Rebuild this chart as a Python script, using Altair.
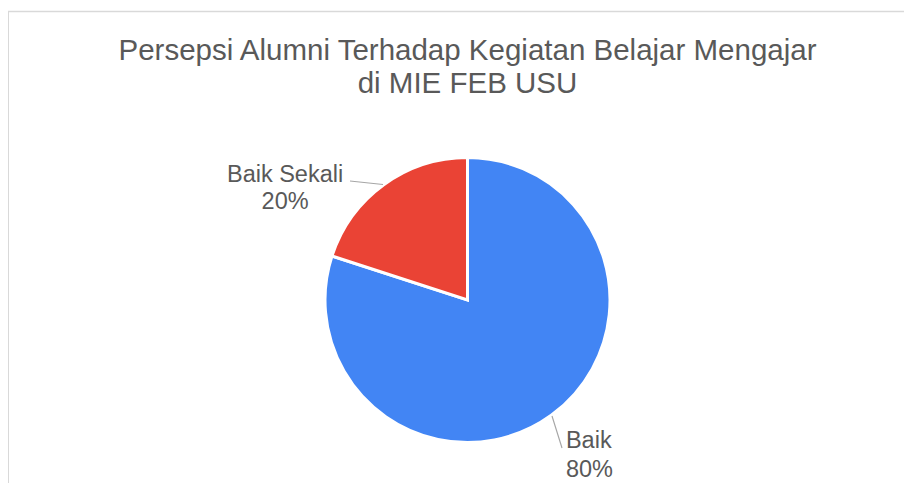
import altair as alt
import pandas as pd

kategori = ["Baik", "Baik Sekali"]
nilai = [80, 20]
urut = [1, 2]
warna = ["#4285F4", "#EA4335"]
judul = ["Persepsi Alumni Terhadap Kegiatan Belajar Mengajar", "di MIE FEB USU"]

df = pd.DataFrame({"kategori": kategori, "nilai": nilai, "urut": urut})

FONT = "Arial, Liberation Sans, sans-serif"
TXT = "#595959"
CX, CY = 459.5, 292

base = (
    alt.Chart(df)
    .transform_joinaggregate(total="sum(nilai)")
    .transform_stack(stack="nilai", groupby=[], as_=["v0", "v1"], sort=[alt.SortField("urut")])
    .transform_calculate(
        vm="(datum.v0 + datum.v1) / 2",
        label="[datum.kategori, round(datum.nilai / datum.total * 100) + '%']",
    )
)

theta_scale = alt.Scale(domain=[0, 100])

pie = base.mark_arc(stroke="white", strokeWidth=3).encode(
    theta=alt.Theta("v0:Q", scale=theta_scale),
    theta2="v1:Q",
    radius=alt.value(142.5),
    x=alt.value(CX),
    y=alt.value(CY),
    color=alt.Color("kategori:N", scale=alt.Scale(domain=kategori, range=warna), legend=None),
)

lab_baik = base.transform_filter("datum.kategori == 'Baik'").mark_text(
    font=FONT, fontSize=23.5, color=TXT, align="left", baseline="alphabetic",
    lineHeight=29, dx=-1.5, dy=10.5,
).encode(
    theta=alt.Theta("vm:Q", scale=theta_scale),
    radius=alt.value(170),
    x=alt.value(CX),
    y=alt.value(CY),
    text="label:N",
)

lab_sekali = base.transform_filter("datum.kategori == 'Baik Sekali'").mark_text(
    font=FONT, fontSize=23.5, color=TXT, align="center", baseline="alphabetic",
    lineHeight=27, dx=-82.5, dy=19.5,
).encode(
    theta=alt.Theta("vm:Q", scale=theta_scale),
    radius=alt.value(170),
    x=alt.value(CX),
    y=alt.value(CY),
    text="label:N",
)

leader1 = alt.Chart(df).mark_rule(color="#a6a6a6", strokeWidth=1.2).encode(
    x=alt.value(342), y=alt.value(173), x2=alt.value(375), y2=alt.value(176.5)
).transform_filter("datum.kategori == 'Baik Sekali'")

leader2 = alt.Chart(df).mark_rule(color="#a6a6a6", strokeWidth=1.2).encode(
    x=alt.value(544), y=alt.value(408), x2=alt.value(554), y2=alt.value(440)
).transform_filter("datum.kategori == 'Baik'")

title1 = alt.Chart(pd.DataFrame({"t": [judul[0]]})).mark_text(
    font=FONT, fontSize=29.5, color=TXT, align="center", baseline="alphabetic"
).encode(x=alt.value(CX), y=alt.value(52), text="t:N")

title2 = alt.Chart(pd.DataFrame({"t": [judul[1]]})).mark_text(
    font=FONT, fontSize=29.5, color=TXT, align="center", baseline="alphabetic"
).encode(x=alt.value(CX), y=alt.value(85), text="t:N")

frame_top = alt.Chart(pd.DataFrame({"a": [0]})).mark_rule(color="#d9d9d9", strokeWidth=1.5).encode(
    x=alt.value(0), x2=alt.value(1000), y=alt.value(3.5)
)
frame_left = alt.Chart(pd.DataFrame({"a": [0]})).mark_rule(color="#d9d9d9", strokeWidth=1.5).encode(
    x=alt.value(0.25), y=alt.value(3.5), y2=alt.value(1000)
)

chart = (
    alt.layer(frame_top, frame_left, pie, leader1, leader2, lab_baik, lab_sekali, title1, title2)
    .properties(width=896, height=475, autosize=alt.AutoSizeParams(type="none"), padding=0)
    .configure_view(stroke=None)
)

chart.save("out.html", embed_options={"renderer": "svg", "actions": False})
